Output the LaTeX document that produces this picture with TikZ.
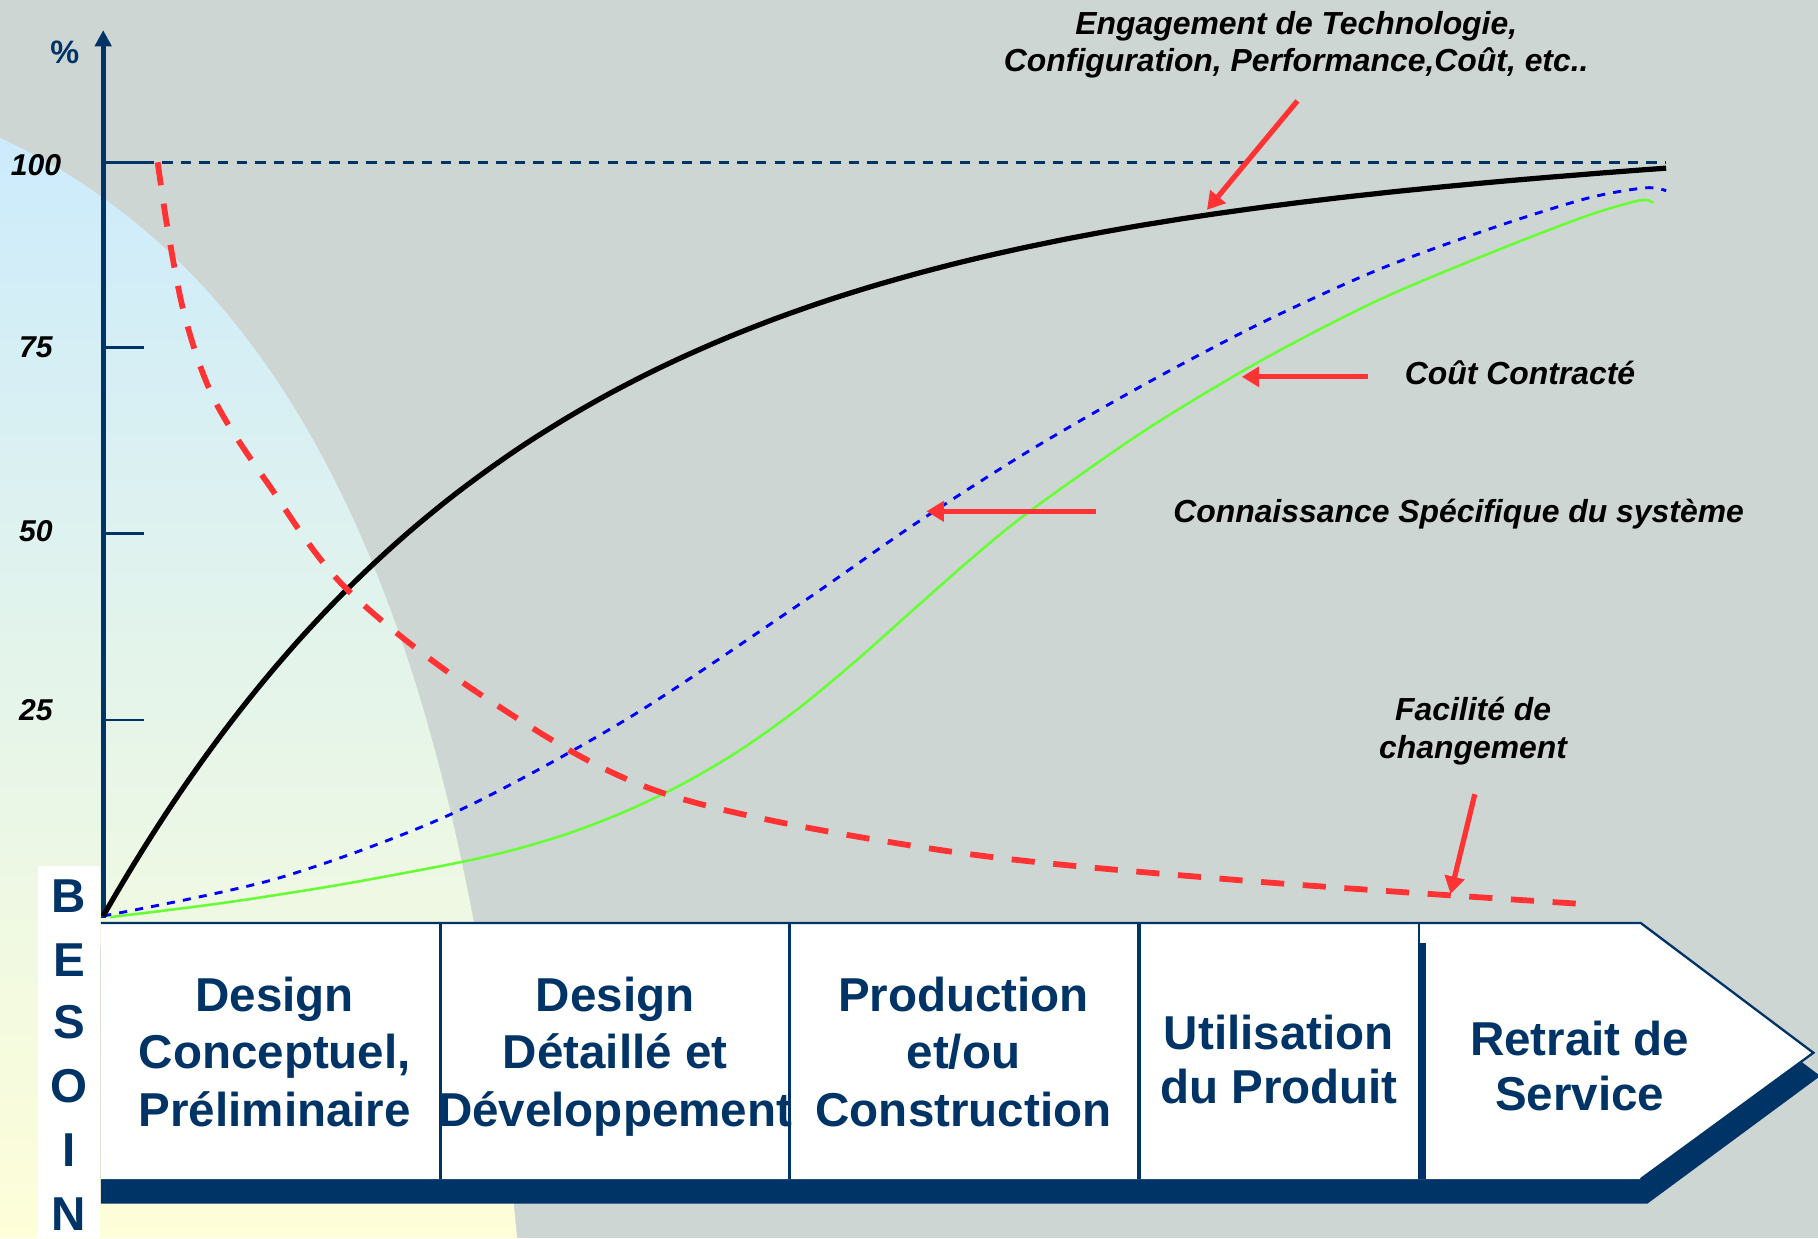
\documentclass[tikz,border=0pt]{standalone}
\usepackage{fontspec}
\setmainfont{Liberation Sans}
\usetikzlibrary{arrows.meta}
\definecolor{navy}{HTML}{003366}
\definecolor{bggray}{HTML}{CED6D3}
\definecolor{lblue}{HTML}{CCEBFC}
\definecolor{lyellow}{HTML}{FEFED8}
\definecolor{redc}{HTML}{FF3333}
\definecolor{greenc}{HTML}{66FF33}
\definecolor{bluec}{HTML}{0000FF}
\begin{document}
\begin{tikzpicture}[x=1pt,y=-1pt,
  lab/.style={font=\fontsize{27.5}{33}\selectfont\bfseries\itshape, text=black, inner sep=0pt, anchor=base},
  ticklab/.style={font=\fontsize{26}{31}\selectfont\bfseries\itshape, text=black, inner sep=0pt, anchor=base},
  phase/.style={font=\fontsize{41}{49}\selectfont\bfseries, text=navy, inner sep=0pt, anchor=base},
  besoin/.style={font=\fontsize{41}{49}\selectfont\bfseries, text=navy, inner sep=0pt, anchor=base},
  redarrow/.style={draw=redc, line width=4.5pt, -{Triangle[length=15pt,width=17pt]}},
  tickline/.style={draw=navy, line width=2.5pt},
  divider/.style={draw=navy, line width=2pt},
]
\useasboundingbox (0,0) rectangle (1568,1068);
\clip (0,0) rectangle (1568,1068);
% background
\fill[bggray] (0,0) rectangle (1568,1068);
\shade[top color=lblue, bottom color=lyellow] (0,119) .. controls (272,244) and (399,570) .. (446,1068) -- (0,1068) -- cycle;

% 100% dashed line
\coordinate (h100s) at (124,140);
\coordinate (h100e) at (1437,140);
\draw[navy, line width=2.5pt, dash pattern=on 9pt off 7pt] (h100s) -- (h100e);

% axis
\coordinate (O) at (89,792);
\coordinate (Ytop) at (89,26);
\draw[navy, line width=4.5pt, -{Triangle[length=14pt,width=14pt]}] (O) -- (Ytop);
\draw[tickline] (89,140) -- (124,140);
\draw[tickline] (89,300) -- (124,300);
\draw[tickline] (89,460) -- (124,460);
\draw[tickline] (89,621) -- (124,621);
\node[font=\fontsize{28}{33}\selectfont\bfseries, text=navy, inner sep=0pt, anchor=base] (pct) at (56,54.6) {\%};
\node[ticklab] (l100) at (31,151) {100};
\node[ticklab] (l75) at (31,308) {75};
\node[ticklab] (l50) at (31,467) {50};
\node[ticklab] (l25) at (31,621.6) {25};

% curves
\draw[bluec, line width=2.5pt, dash pattern=on 7pt off 7pt] plot[smooth, tension=0.5] coordinates {(89,790) (239,757.7) (389,702.2) (539,621.2) (689,521.5) (789,452) (889,388) (989,330.5) (1089,278) (1189,232.5) (1289,196) (1369,171) (1419,162) (1437,164.5)};
\draw[greenc, line width=2.2pt] plot[smooth, tension=0.5] coordinates {(95,791) (189,779.25) (289,763.75) (389,745.25) (439,734) (489,719.25) (539,700) (589,676) (639,646.5) (689,610.75) (739,569.25) (789,524.75) (839,480.75) (889,440.25) (989,370.25) (1089,310.25) (1189,258.75) (1289,216.75) (1369,186) (1409,174) (1420,172.5) (1426,175)};
\draw[black, line width=4.5pt] plot[domain=0:1348, samples=120, smooth] ({89+\x},{790-650*(1-exp(-0.0027*\x))-12*(\x/1348)^3});
\draw[redc, line width=5pt, dash pattern=on 20pt off 16pt] plot[smooth, tension=0.55] coordinates {(136,140) (145,200) (160,275) (185,345) (231,417) (300,509) (422,604) (572,684) (810,733) (1067,759) (1370,780)};

% red pointer arrows
\coordinate (engS) at (1119,87);
\coordinate (engE) at (1041,181);
\coordinate (coutS) at (1180,325);
\coordinate (coutE) at (1071,325);
\coordinate (connS) at (945,441);
\coordinate (connE) at (799,441);
\coordinate (facS) at (1272,685);
\coordinate (facE) at (1251,771);
\draw[redarrow] (engS) -- (engE);
\draw[redarrow] (coutS) -- (coutE);
\draw[redarrow] (connS) -- (connE);
\draw[redarrow] (facS) -- (facE);

% labels
\node[lab] (eng1) at (1118,30) {Engagement de Technologie,};
\node[lab] (eng2) at (1118,62) {Configuration, Performance,Coût, etc..};
\node[lab] (cout) at (1311,332) {Coût Contracté};
\node[lab] (conn) at (1258,450.5) {Connaissance Spécifique du système};
\node[lab] (fac1) at (1270.5,621.5) {Facilité de};
\node[lab] (fac2) at (1270.5,654) {changement};

% phase arrow
\fill[navy] (87,816) -- (1421,816) -- (1570,928) -- (1421,1038) -- (87,1038) -- cycle;
\fill[white] (87,796) -- (1415,796) -- (1564,908) -- (1415,1017) -- (87,1017) -- cycle;
\draw[navy, line width=2pt, line join=miter] (87,796) -- (1415,796) -- (1564,908) -- (1415,1017);
\draw[divider] (380,796) -- (380,1017);
\draw[divider] (681,796) -- (681,1017);
\draw[divider, line width=3.4pt] (982,796) -- (982,1017);
\draw[divider] (1224,796) -- (1224,1017);
\fill[navy] (1223.5,813) rectangle (1229.5,1017);

\node[phase] (p1a) at (237,872.6) {Design};
\node[phase] (p1b) at (237,921.5) {Conceptuel,};
\node[phase] (p1c) at (237,972) {Préliminaire};
\node[phase] (p2a) at (530.5,872.6) {Design};
\node[phase] (p2b) at (530.5,921.5) {Détaillé et};
\node[phase] (p2c) at (530.5,972) {Développement};
\node[phase] (p3a) at (831,872.6) {Production};
\node[phase] (p3b) at (831,921.5) {et/ou};
\node[phase] (p3c) at (831,972) {Construction};
\node[phase] (p4a) at (1103,905) {Utilisation};
\node[phase] (p4b) at (1103,952) {du Produit};
\node[phase] (p5a) at (1362.5,910) {Retrait de};
\node[phase] (p5b) at (1362.5,957.5) {Service};

% BESOIN column
\fill[white] (33,747) rectangle (86,1068);
\node[besoin] (bB) at (59.5,787) {B};
\node[besoin] (bE) at (59.5,842) {E};
\node[besoin] (bS) at (59.5,896) {S};
\node[besoin] (bO) at (59.5,951) {O};
\node[besoin] (bI) at (59.5,1006) {I};
\node[besoin] (bN) at (59.5,1061) {N};
\end{tikzpicture}
\end{document}
